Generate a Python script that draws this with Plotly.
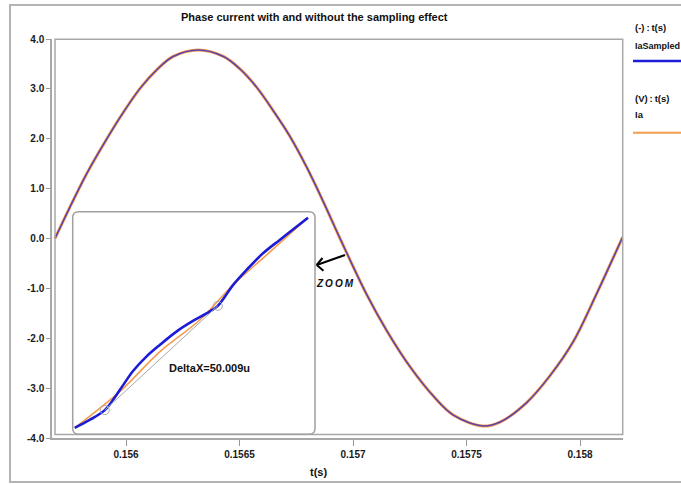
import plotly.graph_objects as go

# ---------------- data ----------------
t_main = [0.155687, 0.155753, 0.155827, 0.155900, 0.155974, 0.156062, 0.156135,
          0.156208, 0.156319, 0.156429, 0.156502, 0.156576, 0.156649, 0.156722,
          0.156796, 0.156869, 0.156943, 0.157060, 0.157149, 0.157251, 0.157354,
          0.157442, 0.157573, 0.157648, 0.157765, 0.157868, 0.157970, 0.158074,
          0.158132, 0.158188]
ia_main = [0.00, 0.63, 1.30, 1.88, 2.43, 3.01, 3.38, 3.65, 3.78, 3.65, 3.40, 3.03,
           2.56, 2.05, 1.43, 0.74, 0.00, -1.12, -1.85, -2.57, -3.16, -3.54, -3.76,
           -3.68, -3.29, -2.75, -2.07, -1.10, -0.53, 0.03]
ia_sampled_main = [0.00, 0.63, 1.30, 1.88, 2.43, 3.01, 3.38, 3.65, 3.78, 3.65, 3.40,
                   3.03, 2.56, 2.05, 1.43, 0.74, 0.00, -1.12, -1.85, -2.57, -3.16,
                   -3.54, -3.76, -3.68, -3.29, -2.75, -2.07, -1.10, -0.53, 0.03]

# zoomed window (time in microseconds from window start)
zoom_t_sampled = [0.9, 7.5, 14.2, 17.8, 22.3, 26.7, 32.6, 38.5, 45.9, 53.2, 59.2,
                  64.2, 67.3, 70.9, 76.9, 84.2, 91.6, 99.0, 104.1]
zoom_ia_sampled = [-0.415, -0.384, -0.345, -0.305, -0.246, -0.190, -0.133, -0.087,
                   -0.034, 0.008, 0.038, 0.068, 0.104, 0.150, 0.210, 0.276, 0.329,
                   0.381, 0.417]
zoom_t_ia = [0.9, 20.8, 38.5, 56.2, 70.9, 85.7, 104.1]
zoom_ia = [-0.415, -0.272, -0.114, 0.012, 0.150, 0.269, 0.417]
sample_marks_t = [14.2, 64.2]
sample_marks_ia = [-0.345, 0.068]

x_tickvals = [0.156, 0.1565, 0.157, 0.1575, 0.158]
x_ticktext = ["0.156", "0.1565", "0.157", "0.1575", "0.158"]
y_tickvals = [4, 3, 2, 1, 0, -1, -2, -3, -4]
y_ticktext = ["4.0", "3.0", "2.0", "1.0", "0.0", "-1.0", "-2.0", "-3.0", "-4.0"]

# ---------------- layout helpers ----------------
W, H = 681, 484
L, R, T, B = 52, 58, 39, 46
PW, PH = W - L - R, H - T - B


def px(x):
    return (x - L) / PW


def py(y):
    return (H - B - y) / PH


BLUE = "#1c1cd6"
ORANGE = "#f59d4c"
FONT = "Liberation Sans"

fig = go.Figure()

# main curves
fig.add_trace(go.Scatter(x=t_main, y=ia_main, mode="lines", name="Ia",
                         line=dict(color=ORANGE, width=3, shape="spline", smoothing=1),
                         xaxis="x", yaxis="y", showlegend=False))
fig.add_trace(go.Scatter(x=t_main, y=ia_sampled_main, mode="lines", name="IaSampled",
                         line=dict(color=BLUE, width=1.5, shape="spline", smoothing=1),
                         opacity=0.7, xaxis="x", yaxis="y", showlegend=False))

# inset curves
fig.add_trace(go.Scatter(x=zoom_t_ia, y=zoom_ia, mode="lines",
                         line=dict(color=ORANGE, width=1.6, shape="spline"),
                         xaxis="x2", yaxis="y2", showlegend=False))
fig.add_trace(go.Scatter(x=zoom_t_sampled, y=zoom_ia_sampled, mode="lines",
                         line=dict(color=BLUE, width=2.6, shape="spline"),
                         xaxis="x2", yaxis="y2", showlegend=False))
fig.add_trace(go.Scatter(x=sample_marks_t, y=sample_marks_ia, mode="lines+markers",
                         line=dict(color="#a8a8a8", width=1),
                         marker=dict(symbol="circle-open", size=9,
                                     line=dict(color="#555555", width=1)),
                         xaxis="x2", yaxis="y2", showlegend=False))

t_left = 0.156 + (L - 126) / 227000
t_right = 0.156 + (W - R - 126) / 227000

tickfont = dict(family=FONT, size=10, color="#1a1a1a", weight="bold")
fig.update_layout(
    width=W, height=H,
    margin=dict(l=L, r=R, t=T, b=B, pad=0),
    paper_bgcolor="white", plot_bgcolor="white",
    xaxis=dict(domain=[0, 1], range=[t_left, t_right], tickvals=x_tickvals,
               ticktext=x_ticktext, ticks="outside", ticklen=6, tickwidth=1,
               tickcolor="#999999", showline=True, linecolor="#a8a8a8", linewidth=1.5,
               showgrid=False, zeroline=False, tickfont=tickfont, anchor="y"),
    yaxis=dict(domain=[0, 1], range=[-4, 4], tickvals=y_tickvals, ticktext=y_ticktext,
               ticks="outside", ticklen=4, tickwidth=1, tickcolor="#999999",
               showline=True, linecolor="#a8a8a8", linewidth=1.5, showgrid=False,
               zeroline=False, tickfont=tickfont, anchor="x"),
    xaxis2=dict(domain=[px(72.7), px(315)], range=[0, 107.2], visible=False,
                anchor="y2"),
    yaxis2=dict(domain=[py(434.3), py(211.7)], range=[-0.4407, 0.4407], visible=False,
                anchor="x2"),
)

shapes = []
# outer frame
shapes.append(dict(type="rect", xref="paper", yref="paper",
                   x0=px(10), y0=py(482), x1=px(700), y1=py(5),
                   line=dict(color="#b4b4b4", width=2), layer="below"))
# inner plot box
shapes.append(dict(type="rect", xref="paper", yref="paper",
                   x0=px(55), y0=py(434.5), x1=px(622.7), y1=py(39.3),
                   line=dict(color="#a8a8a8", width=1.5)))
# rounded inset border
x0, x1, y0, y1 = px(72.7), px(315), py(434.3), py(211.7)
rx, ry = 6 / PW, 6 / PH
path = (f"M {x0+rx},{y1} L {x1-rx},{y1} Q {x1},{y1} {x1},{y1-ry} "
        f"L {x1},{y0+ry} Q {x1},{y0} {x1-rx},{y0} L {x0+rx},{y0} "
        f"Q {x0},{y0} {x0},{y0+ry} L {x0},{y1-ry} Q {x0},{y1} {x0+rx},{y1} Z")
shapes.append(dict(type="path", xref="paper", yref="paper", path=path,
                   line=dict(color="#a0a0a0", width=1.5)))
# ZOOM arrow
arrow = [((345, 255), (316.7, 265)), ((316.7, 265), (322.5, 258)),
         ((316.7, 265), (323.5, 270.7))]
for (ax0, ay0), (ax1, ay1) in arrow:
    shapes.append(dict(type="line", xref="paper", yref="paper",
                       x0=px(ax0), y0=py(ay0), x1=px(ax1), y1=py(ay1),
                       line=dict(color="black", width=2)))
# legend lines
shapes.append(dict(type="line", xref="paper", yref="paper", x0=px(633), x1=px(700),
                   y0=py(61), y1=py(61), line=dict(color=BLUE, width=2.5)))
shapes.append(dict(type="line", xref="paper", yref="paper", x0=px(633), x1=px(700),
                   y0=py(132.7), y1=py(132.7), line=dict(color=ORANGE, width=2)))
fig.update_layout(shapes=shapes)

ann = []


def text(x, y, s, size=10, xanchor="center", italic=False):
    ann.append(dict(xref="paper", yref="paper", x=px(x), y=py(y), text=s,
                    showarrow=False, xanchor=xanchor, yanchor="middle",
                    font=dict(family=FONT, size=size, color="#111111", weight="bold",
                              style="italic" if italic else "normal")))


text(314, 17, "Phase current with and without the sampling effect", size=11)
text(318, 472, "t(s)", size=11)
text(633, 28, "(-)\u2009:\u2009t(s)", size=9.5, xanchor="left")
text(633, 46, "IaSampled", size=9, xanchor="left")
text(633, 98, "(V)\u2009:\u2009t(s)", size=9.5, xanchor="left")
text(633, 114, "Ia", size=9.5, xanchor="left")
text(334.5, 283, "Z\u2009O\u2009O\u2009M", size=10, italic=True)
ann.append(dict(xref="x2", yref="y2", x=60.6, y=-0.178, text="DeltaX=50.009u",
                showarrow=False, xanchor="center", yanchor="middle",
                font=dict(family=FONT, size=11, color="#111111", weight="bold")))
fig.update_layout(annotations=ann)

fig.write_html("out.html")
